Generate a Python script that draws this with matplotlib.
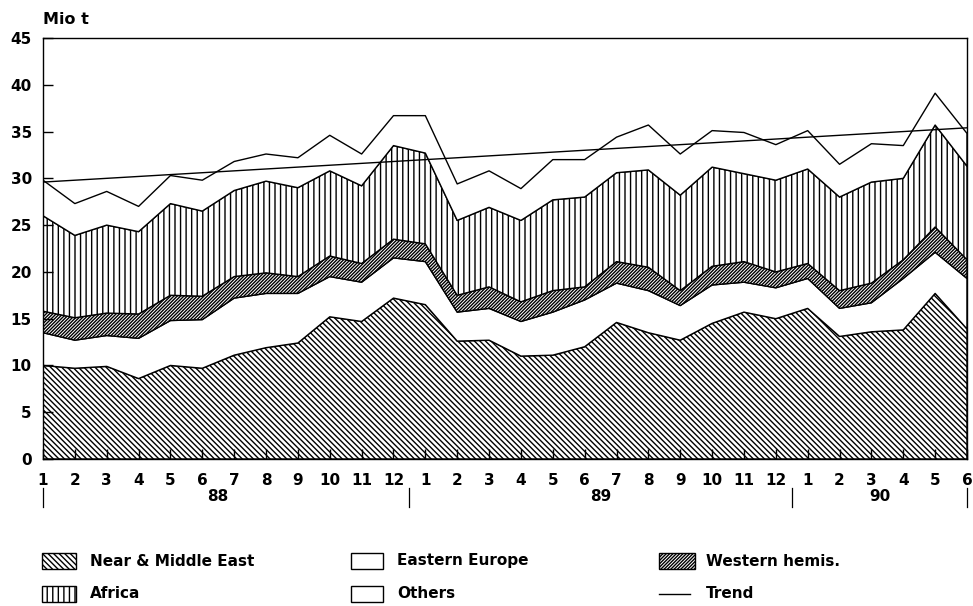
import numpy as np
import matplotlib
matplotlib.use("Agg")
import matplotlib.pyplot as plt
from matplotlib.patches import Rectangle
from matplotlib.lines import Line2D

# ---- data (Mio t) ----
months = [1, 2, 3, 4, 5, 6, 7, 8, 9, 10, 11, 12,
          1, 2, 3, 4, 5, 6, 7, 8, 9, 10, 11, 12,
          1, 2, 3, 4, 5, 6]
years = ["88", "89", "90"]
year_centers = [5.5, 17.5, 26.25]
year_bounds = [0, 11.5, 23.5, 29]

near_east = [10.0, 9.7, 9.9, 8.6, 10.0, 9.7, 11.1, 11.9, 12.4, 15.2, 14.7, 17.2,
             16.5, 12.6, 12.7, 11.0, 11.1, 12.0, 14.6, 13.5, 12.7, 14.5, 15.7, 15.0,
             16.1, 13.1, 13.6, 13.8, 17.7, 13.9]
eastern_europe = [3.5, 3.0, 3.3, 4.3, 4.8, 5.2, 6.1, 5.8, 5.3, 4.3, 4.2, 4.3,
                  4.6, 3.1, 3.4, 3.7, 4.6, 5.0, 4.2, 4.5, 3.7, 4.1, 3.2, 3.3,
                  3.2, 3.0, 3.1, 5.5, 4.4, 5.4]
western_hemis = [2.3, 2.4, 2.4, 2.6, 2.7, 2.5, 2.3, 2.2, 1.8, 2.2, 2.0, 2.0,
                 1.9, 1.8, 2.3, 2.1, 2.3, 1.4, 2.3, 2.5, 1.6, 2.0, 2.2, 1.7,
                 1.6, 1.9, 2.1, 2.0, 2.7, 2.0]
africa = [10.2, 8.8, 9.4, 8.8, 9.8, 9.1, 9.2, 9.8, 9.5, 9.1, 8.3, 10.0,
          9.7, 8.0, 8.5, 8.7, 9.7, 9.6, 9.5, 10.4, 10.2, 10.6, 9.4, 9.8,
          10.1, 10.0, 10.8, 8.7, 10.9, 10.0]
others = [3.8, 3.4, 3.6, 2.7, 3.0, 3.3, 3.1, 2.9, 3.2, 3.8, 3.4, 3.2,
          4.0, 3.9, 3.9, 3.4, 4.3, 4.0, 3.8, 4.8, 4.4, 3.9, 4.4, 3.8,
          4.1, 3.5, 4.1, 3.5, 3.4, 3.5]
trend_ends = [29.6, 35.4]

series = ["Near & Middle East", "Eastern Europe", "Western hemis.", "Africa", "Others"]

plt.rcParams["hatch.linewidth"] = 1.0
plt.rcParams["font.family"] = ["DejaVu Sans"]

W, H = 973, 606
fig = plt.figure(figsize=(W / 100, H / 100), dpi=100)
ax = fig.add_axes([43 / W, 1 - 459 / H, 924 / W, 421 / H])

n = len(months)
x = np.arange(n)
BS = chr(92)
hatches = [BS * 6, "", "/" * 10, "|" * 3, ""]
values = [near_east, eastern_europe, western_hemis, africa, others]

base = np.zeros(n)
for vals, h in zip(values, hatches):
    top = base + np.array(vals)
    ax.fill_between(x, base, top, facecolor="white", edgecolor="black",
                    hatch=h, linewidth=1.0)
    base = top

ax.plot([x[0], x[-1]], trend_ends, color="black", lw=1.0)

ax.set_xlim(0, n - 1)
ax.set_ylim(0, 45)
ax.set_yticks(range(0, 46, 5))
ax.set_xticks(x)
ax.set_xticklabels([str(m) for m in months])
ax.tick_params(axis="both", direction="in", length=7, width=1, labelsize=11)
ax.tick_params(axis="x", pad=10)
ax.tick_params(axis="y", pad=8)
for lbl in ax.get_xticklabels() + ax.get_yticklabels():
    lbl.set_fontweight("bold")
for sp in ax.spines.values():
    sp.set_linewidth(1.0)

trans = ax.get_xaxis_transform()
for b in year_bounds:
    ax.plot([b, b], [-0.069, -0.114], transform=trans, color="black",
            lw=0.9, clip_on=False)
for yc, yl in zip(year_centers, years):
    ax.text(yc, -0.090, yl, transform=trans, ha="center", va="center",
            fontsize=11, fontweight="bold")

fig.text(43 / W, 1 - 19 / H, "Mio t", ha="left", va="center",
         fontsize=11.5, fontweight="bold")

# ---- manual legend ----
def box(x0, yc, w, hatch):
    r = Rectangle((x0 / W, 1 - (yc + 8) / H), w / W, 16 / H,
                  transform=fig.transFigure, facecolor="white",
                  edgecolor="black", hatch=hatch, lw=1.0)
    fig.add_artist(r)

row_y = [561, 594]
entries = [
    (42, 34, 90, row_y[0], hatches[0], series[0]),
    (42, 34, 90, row_y[1], hatches[3], series[3]),
    (351, 32, 397, row_y[0], hatches[1], series[1]),
    (351, 32, 397, row_y[1], hatches[4], series[4]),
    (659, 36, 706, row_y[0], hatches[2], series[2]),
]
for bx, bw, tx, yc, h, label in entries:
    box(bx, yc, bw, h)
    fig.text(tx / W, 1 - yc / H, label, ha="left", va="center",
             fontsize=11, fontweight="bold")

fig.add_artist(Line2D([659 / W, 690 / W], [1 - 594 / H, 1 - 594 / H],
                      transform=fig.transFigure, color="black", lw=1.0))
fig.text(706 / W, 1 - 594 / H, "Trend", ha="left", va="center",
         fontsize=11, fontweight="bold")

fig.savefig("out.png", dpi=100, facecolor="white")
